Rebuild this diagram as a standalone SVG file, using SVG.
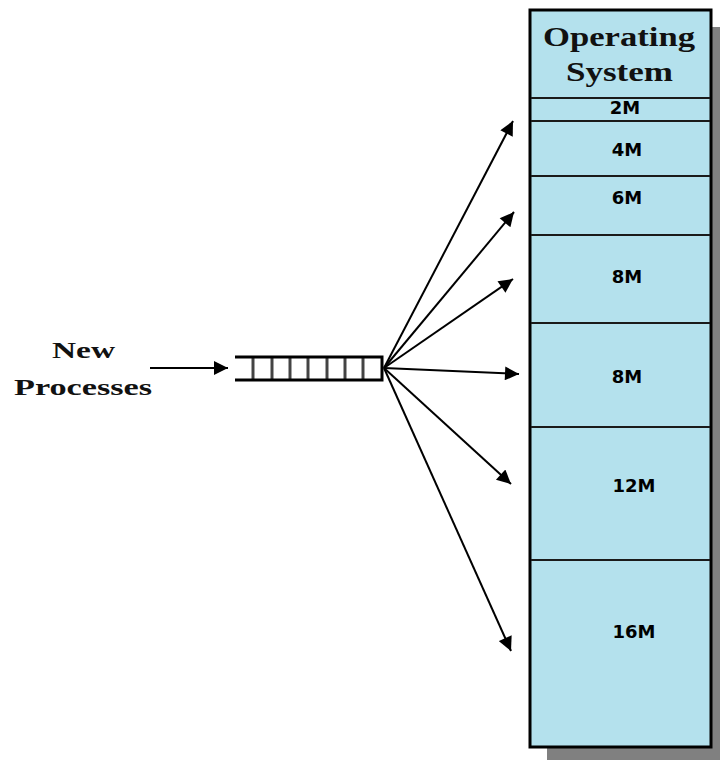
<svg xmlns="http://www.w3.org/2000/svg" width="720" height="760" viewBox="0 0 720 760">
<style>
.serif{font-family:"Liberation Serif","Times New Roman",serif;font-weight:bold;fill:#111}
.lbl{font-family:"DejaVu Sans",Verdana,sans-serif;font-weight:bold;font-size:18px;fill:#000;text-anchor:middle}
.part{stroke:#1a1a1a;stroke-width:2}
.conn{stroke:#000;stroke-width:2;fill:none;marker-end:url(#ah)}
</style>
<defs>
<marker id="ah" viewBox="0 0 10 10" refX="10" refY="5" markerWidth="8.5" markerHeight="7" markerUnits="strokeWidth" orient="auto">
<path d="M0,0 L10,5 L0,10 Z" fill="#000"/>
</marker>
</defs>
<rect width="720" height="760" fill="#fff"/>
<g id="memory">
<rect x="547" y="27" width="182" height="740" fill="#808080"/>
<rect x="530" y="10" width="181" height="737" fill="#b4e1ed" stroke="#000" stroke-width="3"/>
<line class="part" x1="531" y1="98" x2="710" y2="98"/>
<line class="part" x1="531" y1="121" x2="710" y2="121"/>
<line class="part" x1="531" y1="176" x2="710" y2="176"/>
<line class="part" x1="531" y1="235" x2="710" y2="235"/>
<line class="part" x1="531" y1="323" x2="710" y2="323"/>
<line class="part" x1="531" y1="427" x2="710" y2="427"/>
<line class="part" x1="531" y1="560" x2="710" y2="560"/>
<text class="serif" x="543" y="46" font-size="28" textLength="152" lengthAdjust="spacingAndGlyphs">Operating</text>
<text class="serif" x="566" y="81" font-size="28" textLength="107" lengthAdjust="spacingAndGlyphs">System</text>
<text class="lbl" x="625" y="114">2M</text>
<text class="lbl" x="627" y="156">4M</text>
<text class="lbl" x="627" y="204">6M</text>
<text class="lbl" x="627" y="283">8M</text>
<text class="lbl" x="627" y="383">8M</text>
<text class="lbl" x="634" y="492">12M</text>
<text class="lbl" x="634" y="638">16M</text>
</g>
<g id="new-processes">
<text class="serif" x="52" y="358" font-size="24" textLength="63" lengthAdjust="spacingAndGlyphs">New</text>
<text class="serif" x="14" y="395" font-size="24" textLength="138" lengthAdjust="spacingAndGlyphs">Processes</text>
</g>
<g id="queue">
<g stroke="#444" stroke-width="3">
<line x1="253" y1="358" x2="253" y2="380"/>
<line x1="272" y1="358" x2="272" y2="380"/>
<line x1="290" y1="358" x2="290" y2="380"/>
<line x1="308" y1="358" x2="308" y2="380"/>
<line x1="327" y1="358" x2="327" y2="380"/>
<line x1="345" y1="358" x2="345" y2="380"/>
<line x1="363" y1="358" x2="363" y2="380"/>
</g>
<path d="M235,357 H382 V380 H235" fill="none" stroke="#000" stroke-width="3"/>
</g>
<g id="connectors">
<line class="conn" x1="150" y1="368" x2="228" y2="368"/>
<line class="conn" x1="384" y1="368" x2="513" y2="121"/>
<line class="conn" x1="384" y1="368" x2="514" y2="212"/>
<line class="conn" x1="384" y1="368" x2="513" y2="279"/>
<line class="conn" x1="384" y1="368" x2="519" y2="374"/>
<line class="conn" x1="384" y1="368" x2="511" y2="484"/>
<line class="conn" x1="384" y1="368" x2="511" y2="651"/>
</g>
</svg>
